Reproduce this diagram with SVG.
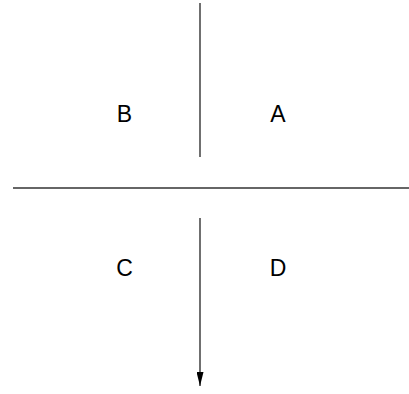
<svg xmlns="http://www.w3.org/2000/svg" width="409" height="394" viewBox="0 0 409 394">
<style>
.ln{stroke:#333;stroke-width:1.4;fill:none}
.lb{font-family:"Liberation Sans",Arial,sans-serif;font-size:23px;fill:#000;text-anchor:middle}
</style>
<defs>
<marker id="ah" markerWidth="14" markerHeight="7" refX="14" refY="3.5" orient="auto" markerUnits="userSpaceOnUse" viewBox="0 0 14 7">
<path d="M0,0 L14,3.5 L0,7 Z" fill="#000"/>
</marker>
</defs>
<rect width="409" height="394" fill="#fff"/>
<g id="connectors">
<line class="ln" x1="200" y1="3" x2="200" y2="157"/>
<line class="ln" x1="13" y1="188" x2="409" y2="188"/>
<line class="ln" x1="200" y1="218" x2="200" y2="386" marker-end="url(#ah)"/>
</g>
<g id="B"><text class="lb" x="124.5" y="122">B</text></g>
<g id="A"><text class="lb" x="278" y="122">A</text></g>
<g id="C"><text class="lb" x="124.5" y="276">C</text></g>
<g id="D"><text class="lb" x="278" y="276">D</text></g>
</svg>
